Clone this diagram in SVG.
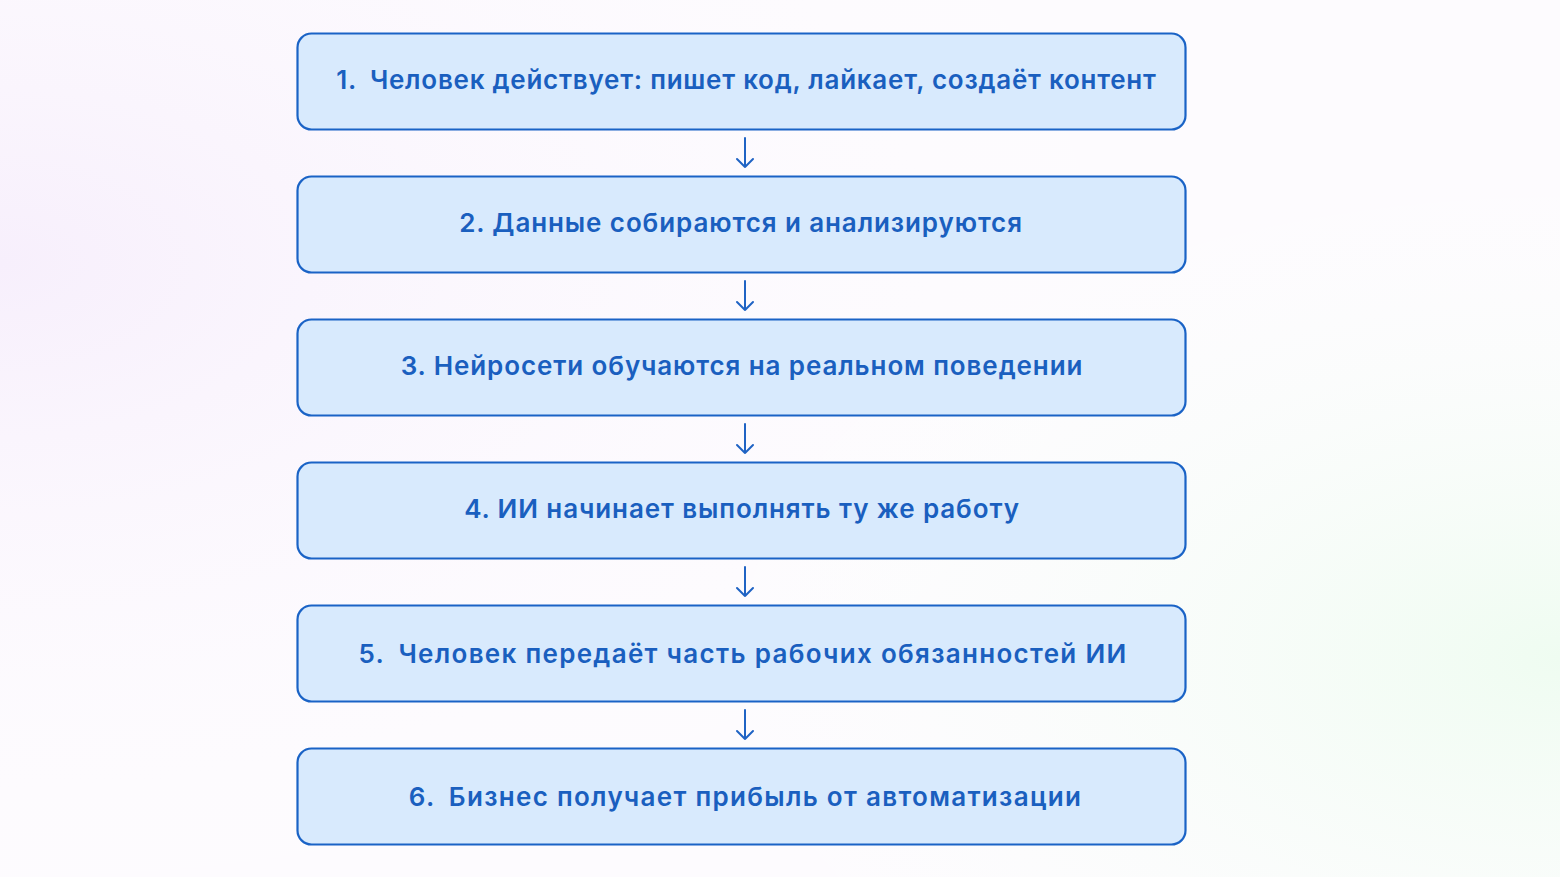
<svg xmlns="http://www.w3.org/2000/svg" width="1560" height="877" viewBox="0 0 1560 877">
<defs>
<radialGradient id="bgPink" cx="0" cy="0.3" r="0.8">
<stop offset="0" stop-color="#f7effc"/>
<stop offset="1" stop-color="#ffffff" stop-opacity="0"/>
</radialGradient>
<radialGradient id="bgGreen" cx="1" cy="0.75" r="0.6">
<stop offset="0" stop-color="#effcf1"/>
<stop offset="1" stop-color="#ffffff" stop-opacity="0"/>
</radialGradient>
<style>
.box{fill:#d8eafd;stroke:#1a63c6;stroke-width:2.2}
.lbl{font-family:Inter,"Noto Sans","DejaVu Sans",sans-serif;font-weight:600;font-size:26px;letter-spacing:0.9px;fill:#1a5fbf;text-anchor:middle}
.arr{fill:none;stroke:#1f63c4;stroke-width:2;stroke-linecap:round;stroke-linejoin:round}
</style>
</defs>
<rect width="1560" height="877" fill="#fdfbfe"/>
<rect width="1560" height="877" fill="url(#bgPink)"/>
<rect width="1560" height="877" fill="url(#bgGreen)"/>
<g id="node1"><rect class="box" x="297.5" y="33.5" width="888" height="96" rx="14"/><text class="lbl" x="746.5" y="89" style="letter-spacing:0.75px">1.<tspan dx="6"> Человек действует: пишет код, лайкает, создаёт контент</tspan></text></g>
<g id="node2"><rect class="box" x="297.5" y="176.5" width="888" height="96" rx="14"/><text class="lbl" x="741" y="232">2. Данные собираются и анализируются</text></g>
<g id="node3"><rect class="box" x="297.5" y="319.5" width="888" height="96" rx="14"/><text class="lbl" x="742" y="375">3. Нейросети обучаются на реальном поведении</text></g>
<g id="node4"><rect class="box" x="297.5" y="462.5" width="888" height="96" rx="14"/><text class="lbl" x="742" y="518">4. ИИ начинает выполнять ту же работу</text></g>
<g id="node5"><rect class="box" x="297.5" y="605.5" width="888" height="96" rx="14"/><text class="lbl" x="743" y="663" style="letter-spacing:1.3px">5.<tspan dx="6"> Человек передаёт часть рабочих обязанностей ИИ</tspan></text></g>
<g id="node6"><rect class="box" x="297.5" y="748.5" width="888" height="96" rx="14"/><text class="lbl" x="745.5" y="806" style="letter-spacing:1.3px">6.<tspan dx="6"> Бизнес получает прибыль от автоматизации</tspan></text></g>
<g id="connectors">
<path class="arr" d="M745 138V167M737 159L745 167L753 159"/>
<path class="arr" d="M745 281V310M737 302L745 310L753 302"/>
<path class="arr" d="M745 424V453M737 445L745 453L753 445"/>
<path class="arr" d="M745 567V596M737 588L745 596L753 588"/>
<path class="arr" d="M745 710V739M737 731L745 739L753 731"/>
</g>
</svg>
